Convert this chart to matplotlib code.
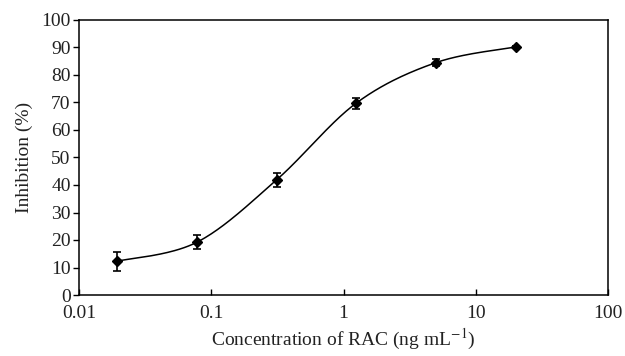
import numpy as np
import matplotlib.pyplot as plt
from matplotlib.ticker import FixedLocator, FixedFormatter, NullLocator

conc = [0.0195, 0.078, 0.3125, 1.25, 5.0, 20.0]
inhib = [12.3, 19.2, 41.9, 69.8, 84.5, 90.2]
err = [3.5, 2.6, 2.5, 2.0, 1.2, 0.5]

xticks = [0.01, 0.1, 1, 10, 100]
xticklabels = ["0.01", "0.1", "1", "10", "100"]
yticks = list(range(0, 101, 10))

plt.rcParams['font.family'] = ['Liberation Serif', 'DejaVu Serif']
plt.rcParams['mathtext.fontset'] = 'stix'

fig = plt.figure(figsize=(6.25, 3.56), dpi=100)
ax = fig.add_axes([79 / 625, 1 - 295 / 356, (608 - 79) / 625, (295 - 20) / 356])
ax.set_xscale('log')
ax.set_xlim(0.01, 100)
ax.set_ylim(0, 100)


# smoothed line like a spreadsheet chart: Catmull-Rom in display space
def smooth(xs, ys, n=40):
    pts = ax.transData.transform(np.column_stack([xs, ys]))
    out = []
    for i in range(len(pts) - 1):
        p0 = pts[i - 1] if i > 0 else pts[i]
        p1 = pts[i]
        p2 = pts[i + 1]
        p3 = pts[i + 2] if i + 2 < len(pts) else pts[i + 1]
        c1 = p1 + (p2 - p0) / 6
        c2 = p2 - (p3 - p1) / 6
        t = np.linspace(0, 1, n)[:, None]
        seg = ((1 - t) ** 3) * p1 + 3 * ((1 - t) ** 2) * t * c1 + 3 * (1 - t) * t ** 2 * c2 + t ** 3 * p2
        out.append(seg if i == 0 else seg[1:])
    out = np.vstack(out)
    return ax.transData.inverted().transform(out)


curve = smooth(conc, inhib)
ax.plot(curve[:, 0], curve[:, 1], color='black', lw=1.1)
ax.errorbar(conc, inhib, yerr=err, fmt='D', color='black', ms=5,
            ecolor='black', elinewidth=1.2, capsize=2.6, capthick=1.2)

ax.xaxis.set_major_locator(FixedLocator(xticks))
ax.xaxis.set_major_formatter(FixedFormatter(xticklabels))
ax.xaxis.set_minor_locator(NullLocator())
ax.set_yticks(yticks)
ax.tick_params(axis='x', direction='in', length=4, width=1, labelsize=14, pad=7)
ax.tick_params(axis='y', direction='out', length=4, width=1, labelsize=14, pad=2)
for s in ax.spines.values():
    s.set_linewidth(1.1)

ax.set_xlabel(r"Concentration of RAC (ng mL$^{-1}$)", fontsize=14, labelpad=4, color='#222222')
ax.set_ylabel("Inhibition (%)", fontsize=14, labelpad=6, color='#222222')
for lab in ax.get_xticklabels() + ax.get_yticklabels():
    lab.set_color('#222222')

fig.savefig('out.png', dpi=100)
